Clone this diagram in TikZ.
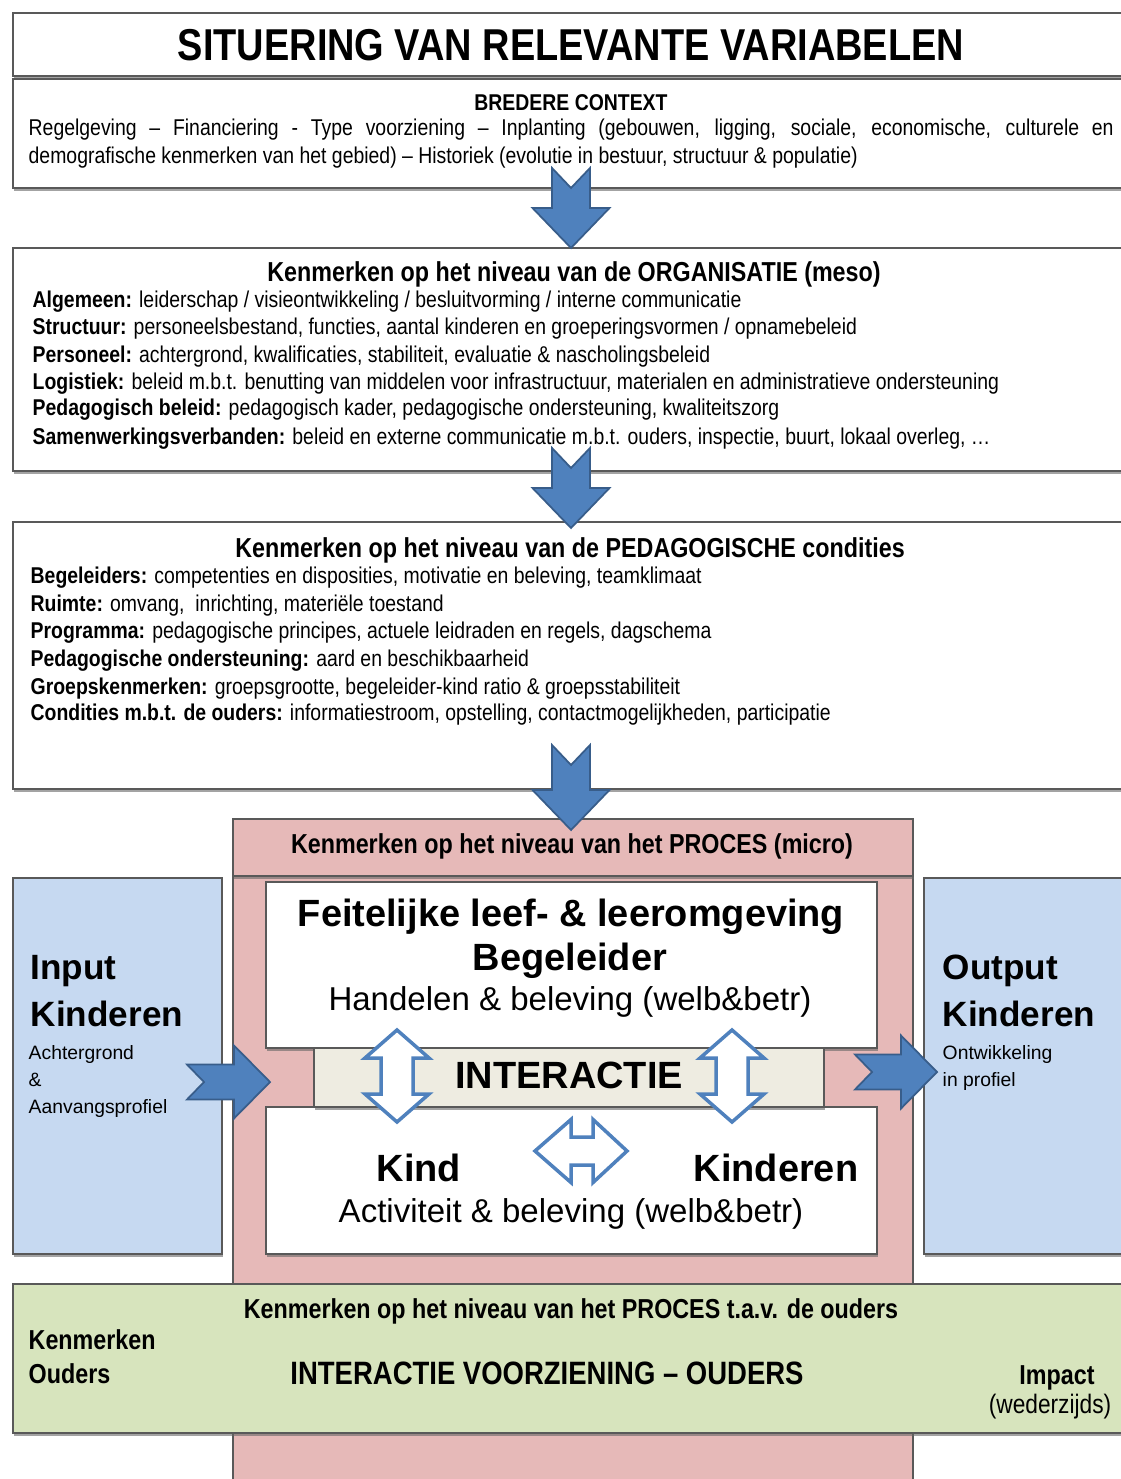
\documentclass[tikz,border=0pt]{standalone}
\usepackage{fontspec}
\setmainfont{Liberation Sans}
\newfontfamily\narrowfont{Liberation Sans}[FakeStretch=0.85]
\usetikzlibrary{calc,shadows}

\definecolor{procpink}{HTML}{E6B9B8}
\definecolor{kidblue}{HTML}{C6D9F1}
\definecolor{parentgreen}{HTML}{D7E4BD}
\definecolor{bandbeige}{HTML}{EEECE1}
\definecolor{arrowblue}{HTML}{4F81BD}
\definecolor{arrowedge}{HTML}{385D8A}
\definecolor{boxedge}{HTML}{595959}

% notched block arrow pointing down, from top (#1) to tip (#2)
\newcommand{\blockdown}[2]{%
  \draw[blockarrow] ($(#1)+(-0.19,0)$) -- ($(#1)+(0,-0.2)$) -- ($(#1)+(0.19,0)$)
    -- ($(#2)+(0.19,0.40)$) -- ($(#2)+(0.385,0.40)$) -- (#2)
    -- ($(#2)+(-0.385,0.40)$) -- ($(#2)+(-0.19,0.40)$) -- cycle;}
% notched block arrow pointing right, from tail (#1) to tip (#2)
\newcommand{\blockright}[2]{%
  \draw[blockarrow] ($(#1)+(0,0.175)$) -- ($(#2)+(-0.36,0.175)$) -- ($(#2)+(-0.36,0.365)$)
    -- (#2) -- ($(#2)+(-0.36,-0.365)$) -- ($(#2)+(-0.36,-0.175)$)
    -- ($(#1)+(0,-0.175)$) -- ($(#1)+(0.17,0)$) -- cycle;}
% open double arrows
\newcommand{\dblvert}[2]{%
  \draw[dblarrow] (#1) -- ($(#1)+(0.32,-0.28)$) -- ($(#1)+(0.16,-0.28)$)
    -- ($(#2)+(0.16,0.28)$) -- ($(#2)+(0.32,0.28)$) -- (#2)
    -- ($(#2)+(-0.32,0.28)$) -- ($(#2)+(-0.16,0.28)$)
    -- ($(#1)+(-0.16,-0.28)$) -- ($(#1)+(-0.32,-0.28)$) -- cycle;}
\newcommand{\dblhoriz}[2]{%
  \draw[dblarrow] (#1) -- ($(#1)+(0.36,0.315)$) -- ($(#1)+(0.36,0.14)$)
    -- ($(#2)+(-0.34,0.14)$) -- ($(#2)+(-0.34,0.315)$) -- (#2)
    -- ($(#2)+(-0.34,-0.315)$) -- ($(#2)+(-0.34,-0.14)$)
    -- ($(#1)+(0.36,-0.14)$) -- ($(#1)+(0.36,-0.315)$) -- cycle;}

\begin{document}
\begin{tikzpicture}[every node/.style={inner sep=0pt},
    box/.style={draw=boxedge, line width=0.5pt, fill=white, anchor=north west,
      drop shadow={shadow xshift=0.4pt, shadow yshift=-0.9pt, fill=black!60, opacity=0.6}},
    blockarrow/.style={fill=arrowblue, draw=arrowedge, line width=0.5pt},
    dblarrow/.style={fill=white, draw=arrowblue, line width=1pt},
    bodytxt/.style={font=\narrowfont\fontsize{6.5}{7.8}\selectfont, anchor=base west},
    headtxt/.style={font=\narrowfont\bfseries\fontsize{7.8}{9}\selectfont, anchor=base},
    bigtxt/.style={font=\bfseries\fontsize{10.8}{12}\selectfont, anchor=base},
    midtxt/.style={font=\fontsize{9.4}{11}\selectfont, anchor=base},
    sidetxt/.style={font=\bfseries\fontsize{10}{12}\selectfont, anchor=base west},
    sidesub/.style={font=\fontsize{5.5}{6.5}\selectfont, anchor=base west}]
  \useasboundingbox (0,0) rectangle (11.21,-14.79);

  % boxes
  \node[box, minimum width=11.18cm, minimum height=0.63cm] (title) at (0.12,-0.12) {};
  \node[box, minimum width=11.18cm, minimum height=1.09cm] (context) at (0.12,-0.78) {};
  \node[box, minimum width=11.18cm, minimum height=2.23cm] (orga) at (0.12,-2.47) {};
  \node[box, minimum width=11.18cm, minimum height=2.67cm] (pedag) at (0.12,-5.21) {};

  \node[box, fill=procpink, minimum width=6.80cm, minimum height=6.4cm] (procbody) at (2.32,-8.75) {};
  \node[box, fill=procpink, minimum width=6.80cm, minimum height=0.57cm] (proces) at (2.32,-8.18) {};
  \node[box, fill=kidblue, minimum width=2.09cm, minimum height=3.76cm] (input) at (0.12,-8.77) {};
  \node[box, fill=kidblue, minimum width=2.07cm, minimum height=3.76cm] (output) at (9.23,-8.77) {};
  \node[box, minimum width=6.11cm, minimum height=1.66cm] (leefomg) at (2.65,-8.81) {};
  \node[box, minimum width=6.11cm, minimum height=1.47cm] (kindbox) at (2.65,-11.06) {};
  \node[box, fill=bandbeige, minimum width=5.10cm, minimum height=0.59cm] (interactie) at (3.13,-10.47) {};
  \node[box, fill=parentgreen, minimum width=11.18cm, minimum height=1.49cm] (ouders) at (0.12,-12.83) {};

  % arrows
  \coordinate (a1) at (5.71,-1.68);
  \coordinate (a1e) at (5.71,-2.48);
  \coordinate (a2) at (5.71,-4.48);
  \coordinate (a2e) at (5.71,-5.28);
  \coordinate (a3) at (5.71,-7.45);
  \coordinate (a3e) at (5.71,-8.30);
  \blockdown{a1}{a1e}
  \blockdown{a2}{a2e}
  \blockdown{a3}{a3e}

  \coordinate (b1) at (1.87,-10.82);
  \coordinate (b2) at (2.70,-10.82);
  \coordinate (c1) at (8.55,-10.72);
  \coordinate (c2) at (9.37,-10.72);
  \blockright{b1}{b2}
  \blockright{c1}{c2}

  \coordinate (d1) at (3.97,-10.30);
  \coordinate (d2) at (3.97,-11.22);
  \coordinate (e1) at (7.32,-10.30);
  \coordinate (e2) at (7.32,-11.22);
  \coordinate (f1) at (5.35,-11.51);
  \coordinate (f2) at (6.27,-11.51);
  \dblvert{d1}{d2}
  \dblvert{e1}{e2}
  \dblhoriz{f1}{f2}

  % texts
  \node[font=\narrowfont\bfseries\fontsize{12.7}{14}\selectfont, anchor=base] (titletxt) at (5.71,-0.61) {SITUERING VAN RELEVANTE VARIABELEN};

  \node[headtxt, font=\narrowfont\bfseries\fontsize{6.5}{8}\selectfont] (ctxhead) at (5.71,-1.11) {BREDERE CONTEXT};
  \node[bodytxt] (ctx1) at (0.28,-1.36) {\makebox[10.85cm][s]{Regelgeving – Financiering - Type voorziening – Inplanting (gebouwen, ligging, sociale, economische, culturele en}};
  \node[bodytxt] (ctx2) at (0.28,-1.64) {demografische kenmerken van het gebied) – Historiek (evolutie in bestuur, structuur \& populatie)};

  \node[headtxt] (orgahead) at (5.74,-2.82) {Kenmerken op het niveau van de ORGANISATIE (meso)};
  \node[bodytxt] (o1) at (0.32,-3.08) {\textbf{Algemeen:} leiderschap / visieontwikkeling / besluitvorming / interne communicatie};
  \node[bodytxt] (o2) at (0.32,-3.35) {\textbf{Structuur:} personeelsbestand, functies, aantal kinderen en groeperingsvormen / opnamebeleid};
  \node[bodytxt] (o3) at (0.32,-3.63) {\textbf{Personeel:} achtergrond, kwalificaties, stabiliteit, evaluatie \& nascholingsbeleid};
  \node[bodytxt] (o4) at (0.32,-3.90) {\textbf{Logistiek:} beleid m.b.t. benutting van middelen voor infrastructuur, materialen en administratieve ondersteuning};
  \node[bodytxt] (o5) at (0.32,-4.16) {\textbf{Pedagogisch beleid:} pedagogisch kader, pedagogische ondersteuning, kwaliteitszorg};
  \node[bodytxt] (o6) at (0.32,-4.45) {\textbf{Samenwerkingsverbanden:} beleid en externe communicatie m.b.t. ouders, inspectie, buurt, lokaal overleg, …};

  \node[headtxt] (pedaghead) at (5.70,-5.58) {Kenmerken op het niveau van de PEDAGOGISCHE condities};
  \node[bodytxt] (p1) at (0.30,-5.84) {\textbf{Begeleiders:} competenties en disposities, motivatie en beleving, teamklimaat};
  \node[bodytxt] (p2) at (0.30,-6.12) {\textbf{Ruimte:} omvang,~ inrichting, materiële toestand};
  \node[bodytxt] (p3) at (0.30,-6.39) {\textbf{Programma:} pedagogische principes, actuele leidraden en regels, dagschema};
  \node[bodytxt] (p4) at (0.30,-6.66) {\textbf{Pedagogische ondersteuning:} aard en beschikbaarheid};
  \node[bodytxt] (p5) at (0.30,-6.94) {\textbf{Groepskenmerken:} groepsgrootte, begeleider-kind ratio \& groepsstabiliteit};
  \node[bodytxt] (p6) at (0.30,-7.20) {\textbf{Condities m.b.t. de ouders:} informatiestroom, opstelling, contactmogelijkheden, participatie};

  \node[headtxt] (proceshead) at (5.72,-8.53) {Kenmerken op het niveau van het PROCES (micro)};

  \node[bigtxt] (l1) at (5.71,-9.26) {Feitelijke leef- \& leeromgeving};
  \node[bigtxt] (l2) at (5.70,-9.70) {Begeleider};
  \node[midtxt] (l3) at (5.70,-10.10) {Handelen \& beleving (welb\&betr)};
  \node[bigtxt] (inttxt) at (5.69,-10.88) {INTERACTIE};
  \node[bigtxt] (kind) at (4.19,-11.81) {Kind};
  \node[bigtxt] (kinderen) at (7.76,-11.81) {Kinderen};
  \node[midtxt] (activ) at (5.71,-12.22) {Activiteit \& beleving (welb\&betr)};

  \node[sidetxt] (in1) at (0.30,-9.79) {Input};
  \node[sidetxt] (in2) at (0.30,-10.26) {Kinderen};
  \node[sidesub] (in3) at (0.28,-10.59) {Achtergrond};
  \node[sidesub] (in4) at (0.28,-10.86) {\&};
  \node[sidesub] (in5) at (0.28,-11.13) {Aanvangsprofiel};

  \node[sidetxt] (out1) at (9.42,-9.79) {Output};
  \node[sidetxt] (out2) at (9.42,-10.26) {Kinderen};
  \node[sidesub] (out3) at (9.42,-10.59) {Ontwikkeling};
  \node[sidesub] (out4) at (9.42,-10.86) {in profiel};

  \node[headtxt] (oudershead) at (5.71,-13.18) {Kenmerken op het niveau van het PROCES t.a.v. de ouders};
  \node[headtxt, anchor=base west] (ou1) at (0.28,-13.49) {Kenmerken};
  \node[headtxt, anchor=base west] (ou2) at (0.28,-13.83) {Ouders};
  \node[headtxt, font=\narrowfont\bfseries\fontsize{9.2}{11}\selectfont] (ou3) at (5.47,-13.84) {INTERACTIE VOORZIENING – OUDERS};
  \node[headtxt] (ou4) at (10.57,-13.84) {Impact};
  \node[headtxt, font=\narrowfont\fontsize{7.6}{9}\selectfont] (ou5) at (10.50,-14.13) {(wederzijds)};
\end{tikzpicture}
\end{document}
